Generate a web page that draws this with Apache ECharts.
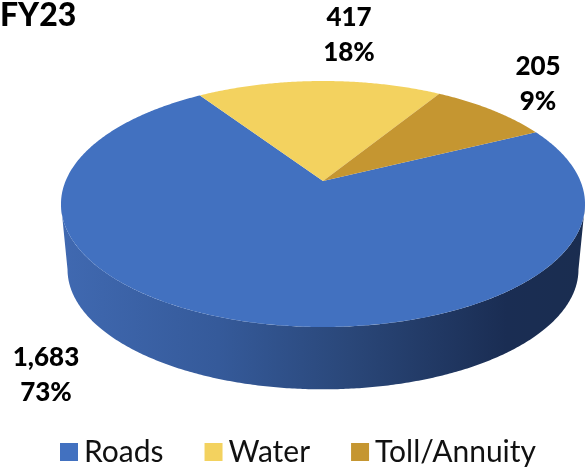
<!DOCTYPE html>
<html>
<head>
<meta charset="utf-8">
<style>
	html, body { margin: 0; background: #fff; }
	#chart { width: 585px; height: 470px; }
</style>
<script src="https://cdn.jsdelivr.net/npm/echarts@6/dist/echarts.min.js"></script>
</head>
<body>
<div id="chart"></div>
<script>
const categories = ['Roads', 'Water', 'Toll/Annuity']
const values = [1683, 417, 205]
const colors = ['#4271c0', '#f3d25f', '#c59631']
const total = values.reduce((a, b) => a + b, 0)

// where the labels sit, one per category
const labelPos = [[46, 375], [349, 35], [538, 84]]

// projection of the tilted disc: apex of the slices, scales, perspective
const cx = 323
const cy = 181
const sx = 257.4
const sy = 118.7
const persp = 0.187
const baseScale = 0.975
const baseShift = 66
const firstAngle = 63.6

const project = (deg) => {
	const t = deg * Math.PI / 180
	const w = 1 + persp * Math.cos(t)
	return [sx * Math.sin(t) / w, -sy * Math.cos(t) / w]
}
const topPoint = (deg) => {
	const p = project(deg)
	return [cx + p[0], cy + p[1]]
}
const basePoint = (deg) => {
	const p = project(deg)
	return [cx + p[0] * baseScale, cy + p[1] * baseScale + baseShift]
}

const sampleArc = (from, to, fn) => {
	const pts = []
	const steps = Math.max(2, Math.ceil(Math.abs(to - from) * 2))
	for (let i = 0; i <= steps; i++) {
		pts.push(fn(from + (to - from) * i / steps))
	}
	return pts
}

// angles where the rim turns from the back to the front of the disc
const rimRight = Math.acos(-persp) * 180 / Math.PI
const rimLeft = 360 - rimRight

const wallFill = {
	type: 'linear',
	x: 61,
	y: 0,
	x2: 585,
	y2: 0,
	global: true,
	colorStops: [
		{ offset: 0, color: '#4069b1' },
		{ offset: 0.3, color: '#355a9a' },
		{ offset: 0.55, color: '#2a4779' },
		{ offset: 0.85, color: '#1a2d53' },
		{ offset: 1, color: '#1a2d50' }
	]
}

let start = firstAngle
const series = categories.map((name, i) => {
	const sweep = values[i] / total * 360
	const from = start
	const to = start + sweep
	start = to

	return {
		name,
		type: 'custom',
		coordinateSystem: 'none',
		silent: true,
		animation: false,
		itemStyle: { color: colors[i] },
		data: [[values[i]]],
		renderItem: () => {
			const children = []
			const wallFrom = Math.max(from, rimRight)
			const wallTo = Math.min(to, rimLeft)
			if (wallTo > wallFrom) {
				const wall = sampleArc(wallFrom, wallTo, topPoint)
					.concat(sampleArc(wallTo, wallFrom, basePoint))
				children.push({
					type: 'polygon',
					shape: { points: wall },
					style: { fill: wallFill }
				})
			}
			children.push({
				type: 'polygon',
				shape: { points: [[cx, cy]].concat(sampleArc(from, to, topPoint)) },
				style: { fill: colors[i] }
			})
			children.push({
				type: 'text',
				x: labelPos[i][0],
				y: labelPos[i][1],
				style: {
					text: values[i].toLocaleString('en-US') + '\n' + Math.round(values[i] / total * 100) + '%',
					fontFamily: 'Lato',
					fontWeight: 900,
					fontSize: 26,
					lineHeight: 35,
					fill: '#000',
					align: 'center',
					verticalAlign: 'middle'
				}
			})
			return { type: 'group', children }
		}
	}
})

const chart = echarts.init(document.getElementById('chart'))

chart.setOption({
	animation: false,
	title: {
		text: 'FY23',
		left: 0,
		top: 0,
		padding: 0,
		textStyle: {
			fontFamily: 'Lato',
			fontWeight: 900,
			fontSize: 32,
			color: '#000'
		}
	},
	legend: {
		data: categories,
		left: 60,
		top: 437,
		padding: 0,
		icon: 'rect',
		itemWidth: 18,
		itemHeight: 18,
		itemGap: 41,
		selectedMode: false,
		textStyle: {
			fontFamily: 'Lato',
			fontSize: 30,
			color: '#111',
			padding: [0, 0, 0, 1]
		}
	},
	series
})
</script>
</body>
</html>
